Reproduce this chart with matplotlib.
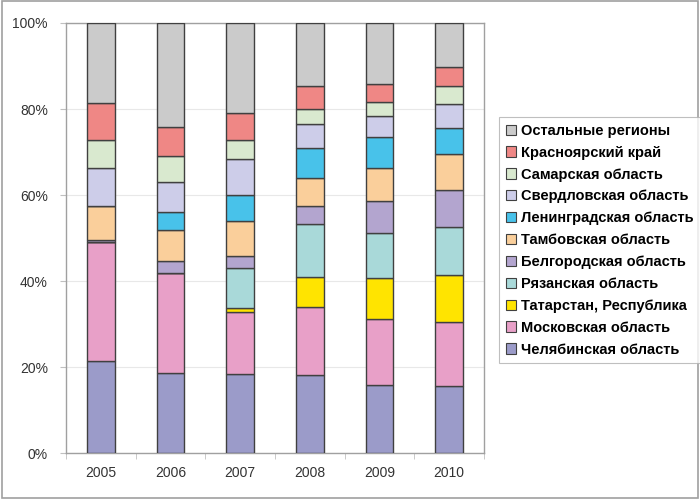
import numpy as np
import matplotlib
matplotlib.use('Agg')
import matplotlib.pyplot as plt
from matplotlib.patches import Rectangle

plt.rcParams['font.family'] = ['Liberation Sans', 'DejaVu Sans']

years = ['2005', '2006', '2007', '2008', '2009', '2010']

# shares in %, bottom to top
regions = [
    'Челябинская область',
    'Московская область',
    'Татарстан, Республика',
    'Рязанская область',
    'Белгородская область',
    'Тамбовская область',
    'Ленинградская область',
    'Свердловская область',
    'Самарская область',
    'Красноярский край',
    'Остальные регионы',
]
chelyabinsk = [21.5, 18.7, 18.5, 18.3, 15.8, 15.7]
moscow      = [27.6, 23.2, 14.4, 15.7, 15.4, 14.9]
tatarstan   = [0.0, 0.0, 0.9, 7.1, 9.6, 10.9]
ryazan      = [0.0, 0.0, 9.2, 12.1, 10.3, 11.0]
belgorod    = [0.4, 2.7, 2.8, 4.4, 7.6, 8.7]
tambov      = [8.1, 7.2, 8.1, 6.3, 7.5, 8.4]
leningrad   = [0.0, 4.2, 6.1, 7.0, 7.2, 6.1]
sverdlovsk  = [8.6, 7.1, 8.3, 5.6, 4.9, 5.4]
samara      = [6.7, 6.1, 4.6, 3.5, 3.3, 4.3]
krasnoyarsk = [8.6, 6.6, 6.1, 5.4, 4.2, 4.3]
others      = [18.5, 24.2, 21.0, 14.6, 14.2, 10.3]

colors = ['#9b9bc9', '#e8a0c8', '#ffe400', '#a9d9d9', '#b3a5cf', '#facf9b',
          '#48c2ea', '#cdcde9', '#d9e9cf', '#ef8785', '#cbcbcb']

series = [chelyabinsk, moscow, tatarstan, ryazan, belgorod, tambov,
          leningrad, sverdlovsk, samara, krasnoyarsk, others]

fig = plt.figure(figsize=(7, 4.99), dpi=100)
fig.patches.append(Rectangle((0.003, 0.003), 0.994, 0.994, transform=fig.transFigure,
                             fill=False, edgecolor='#a0a0a0', linewidth=1.2))
ax = fig.add_axes([0.0943, 0.0912, 0.5971, 0.8628])

x = np.arange(len(years))
bottom = np.zeros(len(years))
handles = []
for name, vals, c in zip(regions, series, colors):
    vals = np.array(vals)
    b = ax.bar(x, vals, 0.4, bottom=bottom, color=c, edgecolor='#404040',
               linewidth=1.0, label=name, zorder=3)
    handles.append(b)
    bottom += vals

ax.set_xlim(-0.5, len(years) - 0.5)
ax.set_ylim(0, 100)
ax.set_yticks(np.arange(0, 101, 20))
ax.set_yticklabels([f'{v}%' for v in range(0, 101, 20)])
ax.set_xticks(x)
ax.set_xticklabels(years)
ax.set_xticks(np.arange(-0.5, len(years)), minor=True)
ax.tick_params(axis='x', which='major', length=0, pad=9)
ax.tick_params(axis='x', which='minor', length=4, color='#c0c0c0')
ax.tick_params(axis='y', length=4, color='#c0c0c0', pad=9)
ax.tick_params(labelsize=10, labelcolor='#333333')
ax.grid(axis='y', color='#e8e8e8', linewidth=0.8, zorder=0)
for s in ax.spines.values():
    s.set_color('#a0a0a0')
    s.set_linewidth(1.0)

leg = fig.legend(handles[::-1], regions[::-1], loc='upper left',
                 bbox_to_anchor=(0.713, 0.765), frameon=True, fancybox=False,
                 handlelength=0.7, handleheight=0.7, handletextpad=0.35,
                 labelspacing=0.54, borderpad=0.45, borderaxespad=0,
                 prop={'size': 10.5, 'weight': 'bold'})
leg.get_frame().set_edgecolor('#b0b0b0')
leg.get_frame().set_linewidth(0.8)
for h in leg.legend_handles:
    h.set_edgecolor('#404040')
    h.set_linewidth(0.8)

fig.savefig('out.png', dpi=100)
